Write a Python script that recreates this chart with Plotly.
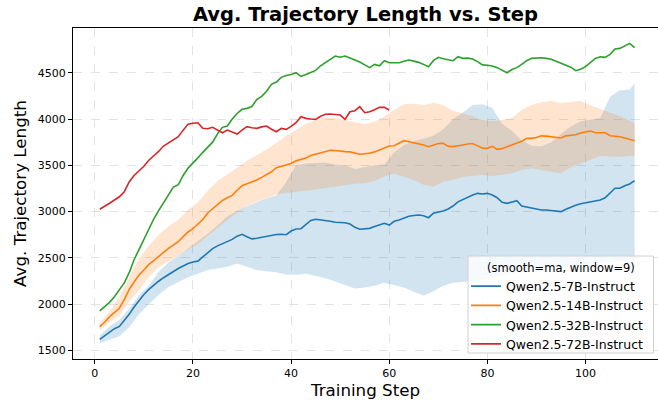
import plotly.graph_objects as go

# ---------------- data ----------------
STEPS = list(range(1, 111))
STEPS_72B = list(range(1, 61))

QWEN_7B = [1621,1660,1705,1735,1760,1820,1890,1970,2040,2105,
           2160,2207,2248,2286,2322,2355,2385,2412,2440,2455,
           2465,2510,2555,2600,2630,2655,2675,2700,2735,2755,
           2729,2705,2712,2722,2735,2745,2752,2755,2750,2790,
           2812,2815,2860,2905,2917,2912,2903,2895,2885,2880,
           2880,2865,2830,2809,2812,2819,2838,2855,2874,2855,
           2895,2909,2930,2950,2958,2963,2955,2934,2982,2995,
           3006,3028,3060,3105,3130,3158,3180,3197,3190,3197,
           3180,3150,3100,3089,3100,3118,3061,3050,3035,3020,
           3017,3017,3012,3005,3000,3025,3050,3068,3085,3096,
           3110,3118,3125,3150,3200,3252,3252,3280,3298,3334]

QWEN_14B = [1757,1805,1865,1910,1956,2050,2160,2240,2315,2370,
            2430,2470,2520,2560,2604,2640,2675,2730,2780,2815,
            2860,2915,2985,3030,3080,3120,3150,3175,3230,3280,
            3300,3320,3341,3370,3400,3430,3475,3490,3505,3520,
            3548,3560,3580,3605,3620,3640,3650,3662,3660,3650,
            3648,3645,3635,3619,3625,3630,3645,3665,3690,3708,
            3712,3740,3766,3755,3745,3737,3720,3701,3720,3735,
            3737,3705,3702,3708,3720,3730,3735,3710,3685,3683,
            3705,3672,3680,3700,3720,3735,3760,3791,3791,3800,
            3818,3815,3809,3795,3795,3818,3825,3830,3850,3862,
            3870,3852,3850,3852,3820,3818,3808,3795,3781,3766]

QWEN_32B = [1927,1975,2020,2080,2150,2230,2340,2480,2590,2700,
            2810,2920,3010,3100,3190,3265,3290,3390,3470,3520,
            3580,3640,3690,3750,3840,3910,3925,4000,4060,4105,
            4115,4135,4210,4245,4300,4375,4400,4450,4470,4480,
            4500,4460,4480,4505,4525,4575,4610,4640,4680,4668,
            4680,4660,4640,4615,4585,4555,4590,4575,4630,4608,
            4608,4608,4625,4637,4625,4612,4590,4565,4630,4666,
            4650,4637,4630,4673,4655,4658,4648,4620,4585,4580,
            4572,4555,4530,4500,4535,4555,4590,4630,4655,4662,
            4662,4655,4645,4625,4605,4585,4560,4522,4537,4565,
            4610,4655,4673,4666,4698,4756,4763,4790,4817,4770]

QWEN_72B = [3025,3055,3090,3125,3160,3215,3320,3390,3440,3490,
            3555,3600,3650,3708,3745,3780,3810,3880,3945,3955,
            3960,3900,3895,3910,3880,3852,3880,3860,3838,3880,
            3917,3905,3899,3915,3924,3890,3863,3899,3888,3920,
            3960,4025,4007,4000,3996,4030,4051,4054,4045,4043,
            3997,4079,4090,4133,4068,4079,4100,4126,4126,4097]

BAND_STEPS = [1,3,5,7,9,11,13,15,17,19,21,23,25,27,29,31,33,35,37,39,
              41,43,45,47,49,51,53,55,57,59,61,63,65,67,69,71,73,75,77,79,
              81,83,85,87,89,91,93,95,97,99,101,103,105,107,109,110]

BAND_7B_UPPER = [1665,1760,1830,1950,2100,2200,2350,2450,2520,2600,
                 2680,2760,2850,2950,3010,3060,3105,3145,3175,3320,
                 3500,3520,3525,3530,3510,3500,3460,3480,3500,3510,
                 3640,3720,3760,3790,3820,3890,4000,4070,4151,4160,
                 4120,3950,3870,3770,3710,3705,3750,3840,3920,3975,
                 3995,4010,4241,4310,4320,4385]
BAND_7B_LOWER = [1578,1620,1655,1750,1890,2000,2100,2185,2240,2290,
                 2330,2370,2385,2405,2440,2405,2369,2355,2345,2320,
                 2318,2330,2305,2280,2245,2210,2170,2180,2200,2232,
                 2210,2180,2135,2095,2140,2200,2232,2243,2250,2270,
                 2290,2310,2330,2350,2370,2390,2400,2410,2420,2430,
                 2440,2450,2460,2470,2480,2480]
BAND_14B_UPPER = [1797,1925,2080,2280,2490,2630,2750,2840,2910,3020,
                  3100,3225,3330,3400,3480,3550,3610,3670,3740,3820,
                  3880,3950,3990,4020,4010,3990,3965,3945,3970,4030,
                  4100,4160,4165,4150,4175,4150,4090,4061,4030,3990,
                  3975,3990,4010,4100,4151,4180,4197,4169,4180,4197,
                  4150,4110,4070,4030,3980,3953]
BAND_14B_LOWER = [1717,1805,1876,2030,2150,2290,2400,2460,2520,2590,
                  2650,2740,2830,2910,2990,3060,3110,3150,3185,3200,
                  3210,3225,3240,3255,3269,3290,3300,3305,3330,3380,
                  3410,3380,3341,3290,3269,3323,3340,3377,3390,3395,
                  3385,3395,3413,3449,3467,3450,3431,3413,3480,3522,
                  3560,3600,3595,3590,3600,3600]

NAMES = ["Qwen2.5-7B-Instruct", "Qwen2.5-14B-Instruct",
         "Qwen2.5-32B-Instruct", "Qwen2.5-72B-Instruct"]
COLORS = ["#1f77b4", "#ff7f0e", "#2ca02c", "#d62728"]
FILLS = ["rgba(31,119,180,0.2)", "rgba(255,127,14,0.2)"]

TITLE = "Avg. Trajectory Length vs. Step"
X_TITLE = "Training Step"
Y_TITLE = "Avg. Trajectory Length"
LEGEND_TITLE = "(smooth=ma, window=9)"

# ---------------- figure ----------------
W, H = 658, 404
ML, MR, MT, MB = 73, 0, 28, 45
PW, PH = W - ML - MR, H - MT - MB

def px_x(px):  # pixel -> paper x
    return (px - ML) / PW

def px_y(py):  # pixel (from top) -> paper y
    return (H - MB - py) / PH

fig = go.Figure()

def add_band(lower, upper, fill):
    fig.add_trace(go.Scatter(x=BAND_STEPS, y=lower, mode="lines",
                             line=dict(width=0), showlegend=False,
                             hoverinfo="skip"))
    fig.add_trace(go.Scatter(x=BAND_STEPS, y=upper, mode="lines",
                             line=dict(width=0), fill="tonexty",
                             fillcolor=fill, showlegend=False,
                             hoverinfo="skip"))

add_band(BAND_7B_LOWER, BAND_7B_UPPER, FILLS[0])
fig.add_trace(go.Scatter(x=STEPS, y=QWEN_7B, mode="lines", name=NAMES[0],
                         line=dict(color=COLORS[0], width=1.6)))
add_band(BAND_14B_LOWER, BAND_14B_UPPER, FILLS[1])
fig.add_trace(go.Scatter(x=STEPS, y=QWEN_14B, mode="lines", name=NAMES[1],
                         line=dict(color=COLORS[1], width=1.6)))
fig.add_trace(go.Scatter(x=STEPS, y=QWEN_32B, mode="lines", name=NAMES[2],
                         line=dict(color=COLORS[2], width=1.6)))
fig.add_trace(go.Scatter(x=STEPS_72B, y=QWEN_72B, mode="lines", name=NAMES[3],
                         line=dict(color=COLORS[3], width=1.6)))

FONT = "DejaVu Sans"
fig.update_layout(
    width=W, height=H,
    margin=dict(l=ML, r=MR, t=MT, b=MB),
    paper_bgcolor="white", plot_bgcolor="white",
    font=dict(family=FONT, color="black", size=11),
    title=dict(text="<b>" + TITLE + "</b>", x=0.5, xref="paper",
               y=(H - 14) / H, yref="container", yanchor="middle",
               xanchor="center", font=dict(family=FONT, size=19.5, color="black")),
    legend=dict(
        x=px_x(466), y=px_y(271.5), xanchor="left", yanchor="top",
        traceorder="normal",
        bgcolor="rgba(0,0,0,0)", borderwidth=0,
        font=dict(family=FONT, size=12.5, color="black"),
        itemwidth=30, tracegroupgap=0,
    ),
    showlegend=True,
    shapes=[dict(type="rect", xref="paper", yref="paper", layer="above",
                 x0=px_x(468), x1=px_x(653.5), y0=px_y(353), y1=px_y(256),
                 fillcolor="rgba(255,255,255,0.8)",
                 line=dict(color="#d0d0d0", width=1))],
    annotations=[dict(text=LEGEND_TITLE, xref="paper", yref="paper",
                      x=px_x(561), y=px_y(267.5), xanchor="center",
                      yanchor="middle", showarrow=False,
                      font=dict(family=FONT, size=11.5, color="black"))],
)
fig.update_xaxes(
    range=[-4.45, 114.77], tick0=0, dtick=20,
    showline=True, mirror=True, linecolor="black", linewidth=1,
    ticks="outside", ticklen=4, tickcolor="black",
    showgrid=True, gridcolor="#e3e3e3", griddash="dash", gridwidth=1,
    zeroline=False,
    title=dict(text=X_TITLE, font=dict(family=FONT, size=16.7), standoff=4),
)
fig.update_yaxes(
    range=[1408, 4983], tick0=1500, dtick=500,
    showline=True, mirror=True, linecolor="black", linewidth=1,
    ticks="outside", ticklen=4, tickcolor="black",
    showgrid=True, gridcolor="#e3e3e3", griddash="dash", gridwidth=1,
    zeroline=False,
    title=dict(text=Y_TITLE, font=dict(family=FONT, size=16.7), standoff=6),
)

fig.write_html("out.html", config={"displayModeBar": False},
               post_script="document.body.style.margin='0';document.body.style.overflow='hidden';")
